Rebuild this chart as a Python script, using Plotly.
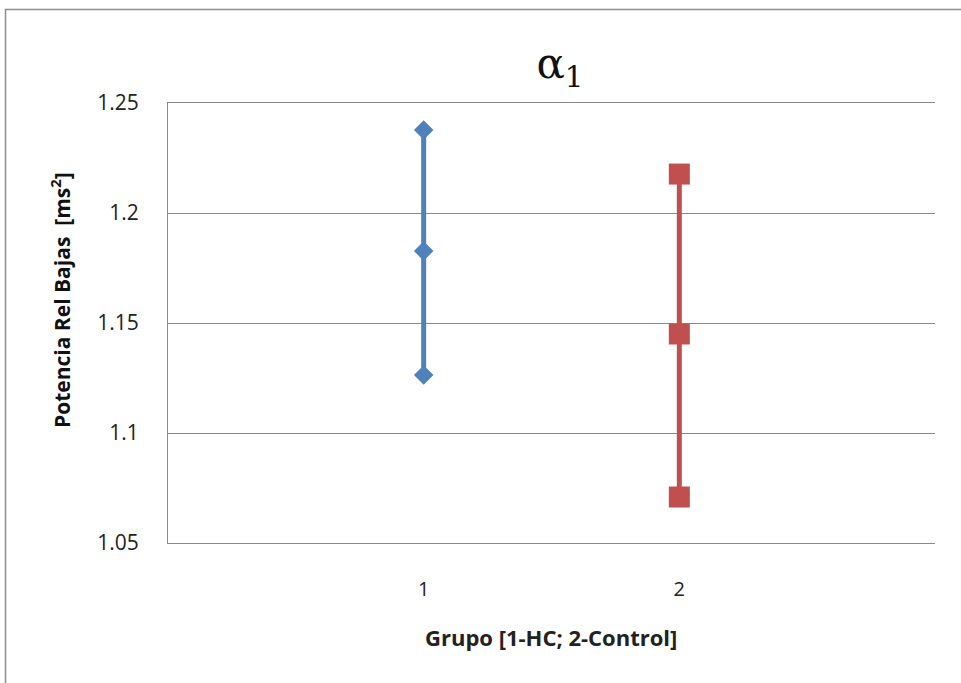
import plotly.graph_objects as go

groups = [1, 2]
group_names = ["1-HC", "2-Control"]
hc_values = [1.2377, 1.1827, 1.1264]
control_values = [1.2177, 1.145, 1.0709]
y_ticks = [1.05, 1.1, 1.15, 1.2, 1.25]
y_ticktext = ["1.05", "1.1", "1.15", "1.2", "1.25"]

W, H = 961, 683
L, R, T, B = 168, 26, 103, 140
PW, PH = W - L - R, H - T - B


def px_x(x):
    return (x - L) / PW


def px_y(y):
    return (H - B - y) / PH


fig = go.Figure()
fig.add_trace(go.Scatter(
    x=[groups[0]] * len(hc_values), y=hc_values, mode="lines+markers",
    line=dict(color="#4F81BD", width=5),
    marker=dict(symbol="diamond", size=15, color="#4F81BD"),
    name=group_names[0], showlegend=False))
fig.add_trace(go.Scatter(
    x=[groups[1]] * len(control_values), y=control_values, mode="lines+markers",
    line=dict(color="#C0504D", width=5),
    marker=dict(symbol="square", size=21, color="#C0504D"),
    name=group_names[1], showlegend=False))

font_family = "'Open Sans', Lato, sans-serif"
grid = "#8a8a8a"

fig.update_layout(
    width=W, height=H,
    margin=dict(l=L, r=R, t=T, b=B),
    paper_bgcolor="white", plot_bgcolor="white",
    font=dict(family=font_family, size=20, color="#222"),
    title=dict(text="α<sub>1</sub>", x=560 / W, xanchor="center", y=1 - 63 / H, yanchor="middle",
               font=dict(family="'DejaVu Serif', 'Liberation Serif', serif", size=42, color="#111")),
    xaxis=dict(range=[0, 3], tickvals=groups, ticktext=[str(g) for g in groups],
               showgrid=False, zeroline=False, showline=True, mirror=True,
               linecolor=grid, linewidth=1, ticks="",
               ticklabelstandoff=28, tickfont=dict(size=20, color="#222")),
    yaxis=dict(range=[1.05, 1.25], tickvals=y_ticks, ticktext=y_ticktext,
               showgrid=True, gridcolor=grid, gridwidth=1, zeroline=False,
               showline=True, linecolor=grid, linewidth=1, ticks="",
               ticklabelstandoff=24, tickfont=dict(size=21, color="#222")),
    annotations=[
        dict(text="<b>Grupo [1-HC; 2-Control]</b>", xref="paper", yref="paper",
             x=px_x(551), y=px_y(637), xanchor="center", yanchor="middle",
             showarrow=False, font=dict(size=22, color="#222")),
        dict(text="<b>Potencia Rel Bajas  [ms<sup>2</sup>]</b>", xref="paper", yref="paper",
             x=px_x(60), y=px_y(300), xanchor="center", yanchor="middle",
             textangle=-90, showarrow=False, font=dict(size=21, color="#111")),
    ],
    shapes=[
        dict(type="rect", xref="paper", yref="paper",
             x0=px_x(5.5), x1=px_x(975), y0=px_y(700), y1=px_y(9.5),
             line=dict(color="#8c8c8c", width=1.5), fillcolor="rgba(0,0,0,0)", layer="below"),
    ],
)

fig.write_html("out.html", config={"displayModeBar": False},
               post_script="document.body.style.margin='0';")
